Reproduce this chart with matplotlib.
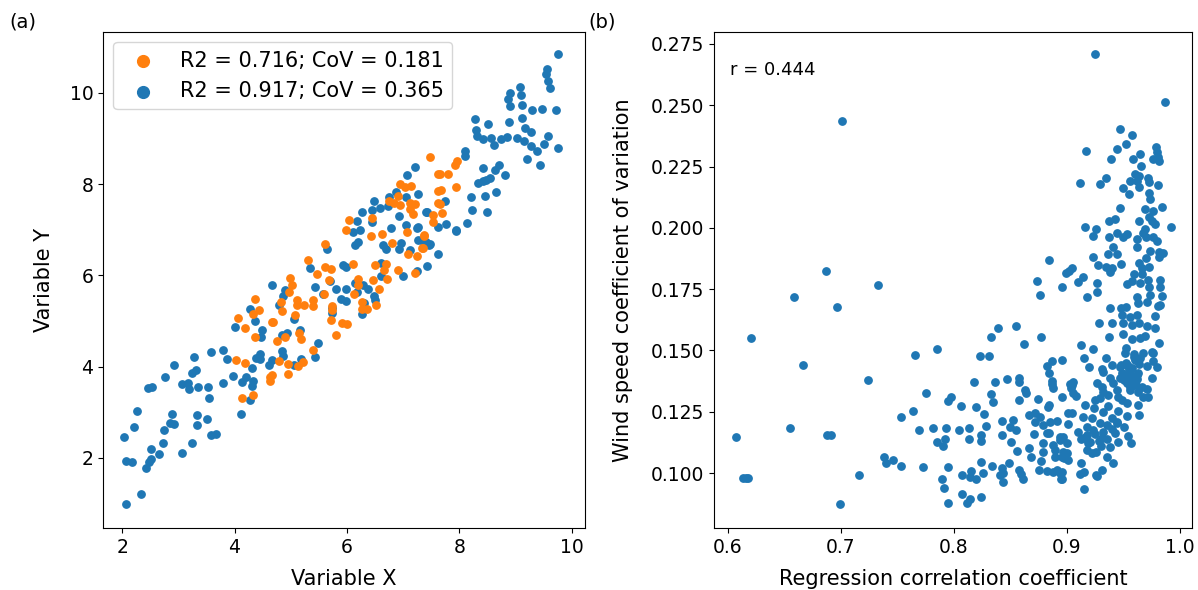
import numpy as np
import matplotlib
matplotlib.use('Agg')
import matplotlib.pyplot as plt

plt.rcParams['font.size'] = 13.5

# (a) two synthetic x/y sets: columns are x, y
set_low = np.array([
    [4.36, 5.48], [4.44, 5.25], [4.32, 5.15], [4.06, 5.07], [4.19, 4.85], [4.36, 4.65],
    [4.67, 4.97], [4.03, 4.14], [4.18, 4.08], [4.14, 3.32], [4.33, 3.37], [4.64, 3.78],
    [4.63, 3.69], [4.69, 4.98], [4.75, 4.56], [4.90, 4.64], [4.80, 4.13], [4.66, 3.81],
    [4.95, 4.05], [4.96, 3.84], [5.13, 4.02], [5.22, 4.11], [5.14, 4.73], [5.18, 4.61],
    [5.40, 4.37], [5.08, 5.14], [4.83, 5.41], [4.84, 5.23], [4.97, 5.63], [4.99, 5.94],
    [5.03, 5.79], [5.11, 5.45], [5.12, 5.36], [5.24, 5.34], [5.39, 5.33], [5.40, 5.46],
    [5.59, 5.60], [5.69, 5.89], [5.46, 6.03], [5.30, 6.34], [5.61, 6.18], [5.72, 6.15],
    [5.61, 6.69], [5.73, 5.32], [5.74, 5.25], [5.72, 5.02], [5.80, 4.70], [5.92, 4.95],
    [6.01, 4.94], [6.11, 6.25], [6.12, 5.59], [6.20, 5.93], [6.20, 5.79], [6.26, 5.42],
    [6.27, 5.27], [6.35, 5.27], [6.47, 5.90], [6.50, 6.22], [6.57, 5.70], [6.51, 5.36],
    [6.66, 6.11], [6.70, 6.25], [6.71, 5.93], [6.42, 6.86], [6.45, 7.25], [6.63, 6.91],
    [6.81, 6.72], [6.91, 6.11], [7.08, 6.47], [7.24, 6.43], [7.21, 6.05], [7.34, 6.59],
    [7.37, 6.87], [7.07, 6.95], [6.04, 7.21], [5.98, 7.00], [6.75, 7.64], [6.84, 7.59],
    [6.91, 7.73], [6.94, 7.54], [6.95, 8.00], [7.03, 7.93], [7.14, 7.97], [7.13, 7.59],
    [7.21, 7.57], [7.12, 7.46], [7.17, 7.35], [7.48, 8.59], [7.62, 8.23], [7.62, 7.86],
    [7.62, 7.59], [7.53, 7.32], [7.53, 7.18], [7.65, 8.23], [7.80, 8.23], [7.93, 8.42],
    [7.96, 8.51], [7.95, 7.94], [7.67, 7.88], [7.66, 7.57], [7.69, 7.37], [7.37, 6.88],
    [7.35, 6.59],
])

set_high = np.array([
    [2.07, 0.99], [2.33, 1.21], [2.04, 2.45], [2.07, 1.92], [2.18, 1.90], [2.22, 2.68],
    [2.27, 3.02], [2.43, 1.77], [2.47, 1.90], [2.51, 1.98], [2.52, 2.19], [2.66, 2.09],
    [2.73, 2.32], [2.75, 2.61], [2.86, 2.77], [2.93, 2.75], [2.89, 2.95], [3.07, 2.10],
    [3.24, 2.32], [3.33, 2.94], [3.34, 2.72], [3.51, 2.85], [3.59, 2.50], [3.67, 2.53],
    [2.46, 3.53], [2.53, 3.55], [2.76, 3.78], [2.93, 4.04], [3.07, 3.61], [3.17, 3.64],
    [3.19, 3.51], [3.35, 3.55], [3.25, 3.86], [3.31, 3.93], [3.27, 4.22], [3.53, 3.55],
    [3.55, 3.31], [3.59, 4.32], [3.79, 4.37], [3.87, 4.17], [3.79, 3.64], [3.97, 3.80],
    [4.12, 2.95], [4.14, 3.67], [4.20, 3.77], [4.27, 3.26], [4.31, 3.58], [4.32, 3.69],
    [4.31, 3.96], [4.38, 4.19], [4.45, 4.28], [4.46, 4.16], [4.61, 4.04], [4.01, 4.87],
    [4.27, 5.26], [4.36, 5.00], [4.49, 4.81], [4.48, 4.66], [4.67, 5.80], [4.89, 5.67],
    [4.87, 5.54], [4.80, 5.35], [5.05, 5.04], [4.84, 4.69], [4.93, 4.73], [4.84, 4.35],
    [4.86, 4.24], [4.66, 4.15], [5.16, 4.81], [5.18, 4.16], [5.06, 4.04], [5.44, 4.22],
    [5.48, 4.52], [5.35, 6.17], [5.43, 5.74], [5.58, 5.60], [5.70, 5.88], [5.80, 5.70],
    [5.65, 6.58], [5.89, 5.49], [5.98, 5.43], [5.98, 5.70], [5.93, 6.23], [5.98, 6.18],
    [5.73, 5.17], [5.74, 5.28], [6.15, 5.83], [6.18, 5.63], [6.29, 5.79], [6.37, 5.70],
    [6.49, 5.54], [6.50, 5.47], [6.27, 5.16], [6.31, 5.39], [6.10, 6.96], [6.15, 6.66],
    [6.20, 6.74], [6.18, 7.20], [6.24, 7.00], [6.27, 7.39], [6.44, 7.17], [6.44, 7.44],
    [6.48, 7.64], [6.59, 7.48], [6.73, 7.52], [6.75, 7.71], [6.87, 7.82], [6.92, 7.30],
    [6.79, 7.03], [6.65, 6.66], [6.69, 6.58], [6.60, 6.27], [6.60, 5.98], [6.96, 6.72],
    [6.92, 6.58], [7.00, 5.99], [7.05, 7.10], [7.05, 7.71], [7.07, 8.21], [7.22, 8.37],
    [7.27, 7.79], [7.24, 7.04], [7.27, 7.07], [7.26, 6.78], [7.12, 6.56], [7.37, 6.71],
    [7.46, 6.66], [7.42, 6.20], [7.25, 6.09], [7.40, 7.39], [7.62, 6.47], [7.62, 7.06],
    [9.76, 10.86], [9.56, 10.52], [9.54, 10.41], [9.57, 10.27], [9.61, 10.10], [9.08, 10.13],
    [8.90, 10.00], [8.86, 9.86], [8.91, 9.72], [9.09, 9.95], [9.11, 9.73], [9.29, 9.62],
    [9.48, 9.65], [9.72, 9.62], [9.11, 9.46], [8.89, 9.36], [8.51, 9.31], [8.28, 9.43],
    [8.29, 9.18], [8.32, 9.06], [8.42, 8.99], [8.57, 9.01], [8.62, 8.86], [8.74, 8.99],
    [8.84, 9.04], [9.02, 9.01], [9.17, 9.23], [9.28, 9.14], [9.16, 8.95], [9.27, 8.84],
    [9.38, 8.73], [9.51, 8.88], [9.58, 9.06], [9.76, 8.79], [9.21, 8.55], [9.43, 8.42],
    [8.10, 8.73], [8.10, 8.62], [8.42, 8.36], [8.70, 8.42], [8.64, 8.31], [8.81, 8.20],
    [8.54, 8.14], [8.48, 8.10], [8.42, 8.07], [8.33, 8.02], [8.45, 7.75], [8.66, 7.82],
    [8.20, 7.71], [8.22, 7.43], [8.50, 7.39], [8.13, 7.14], [7.95, 6.97], [7.94, 7.00],
    [7.77, 7.12], [7.75, 7.63], [7.42, 7.39], [7.48, 6.68], [7.40, 6.73],
])

label_low = 'R2 = 0.716; CoV = 0.181'
label_high = 'R2 = 0.917; CoV = 0.365'

# (b) regression r vs wind speed CoV per site: columns are r, CoV
sites = np.array([
    [0.7006, 0.2435], [0.620, 0.155], [0.658, 0.172], [0.687, 0.1825], [0.6965, 0.1676],
    [0.733, 0.1766], [0.666, 0.1442], [0.724, 0.1378], [0.607, 0.1148], [0.6157, 0.0981],
    [0.6181, 0.0981], [0.6136, 0.0981], [0.6546, 0.1185], [0.6879, 0.1155], [0.6909, 0.1155],
    [0.6988, 0.0874], [0.7159, 0.0993], [0.7655, 0.148], [0.7852, 0.1505], [0.7755, 0.1325],
    [0.7531, 0.1228], [0.7637, 0.1252], [0.7687, 0.1175], [0.7817, 0.1184], [0.7932, 0.1184],
    [0.7847, 0.1126], [0.790, 0.1109], [0.7918, 0.114], [0.738, 0.1064], [0.740, 0.1041],
    [0.746, 0.1052], [0.7531, 0.1031], [0.7726, 0.1024], [0.7896, 0.0976], [0.7909, 0.0939],
    [0.7947, 0.1023], [0.795, 0.088], [0.795, 0.1293], [0.7971, 0.1311],
    [0.8737, 0.1782], [0.8956, 0.1760], [0.8764, 0.1726], [0.8392, 0.1592], [0.8546, 0.1601],
    [0.8327, 0.1554], [0.8773, 0.1556], [0.8622, 0.1526], [0.8227, 0.1479], [0.8310, 0.1479],
    [0.8826, 0.1437], [0.8867, 0.1456], [0.8956, 0.1461], [0.8838, 0.1409], [0.8867, 0.1377],
    [0.8873, 0.1346], [0.8958, 0.1311], [0.9027, 0.1363], [0.8180, 0.1371], [0.8360, 0.1371],
    [0.8466, 0.1382], [0.8572, 0.1388], [0.8572, 0.1373], [0.8631, 0.1339], [0.8640, 0.1325],
    [0.8578, 0.1298], [0.8741, 0.1302], [0.8844, 0.1276], [0.8059, 0.1273], [0.8195, 0.1270],
    [0.8325, 0.1321], [0.8348, 0.1290], [0.8265, 0.1239], [0.8283, 0.1193], [0.8425, 0.1213],
    [0.8519, 0.1216], [0.8496, 0.1189], [0.8549, 0.1175], [0.8667, 0.1238], [0.8720, 0.1244],
    [0.8761, 0.1230], [0.8720, 0.1209], [0.8790, 0.1195], [0.8909, 0.1212], [0.8844, 0.1162],
    [0.8708, 0.1159], [0.8425, 0.1154], [0.8502, 0.1125], [0.8558, 0.1089], [0.8661, 0.1103],
    [0.8679, 0.1067], [0.8767, 0.1049], [0.8790, 0.1087], [0.8790, 0.1121], [0.8891, 0.1094],
    [0.8938, 0.1148], [0.8755, 0.1012], [0.8820, 0.1009], [0.8879, 0.1005], [0.8938, 0.1001],
    [0.8947, 0.0978], [0.8236, 0.1156], [0.8236, 0.1129], [0.8130, 0.1184], [0.8130, 0.1140],
    [0.8042, 0.1175], [0.8071, 0.0993], [0.8153, 0.1009], [0.8142, 0.0985], [0.8195, 0.0977],
    [0.8254, 0.0999], [0.8236, 0.1046], [0.8334, 0.1031], [0.8422, 0.1020], [0.8487, 0.1040],
    [0.8436, 0.0999], [0.8407, 0.0993], [0.8436, 0.0964], [0.8572, 0.1012], [0.8596, 0.0995],
    [0.8611, 0.0978], [0.8071, 0.0913], [0.8142, 0.0895], [0.8112, 0.0879], [0.8236, 0.0901],
    [0.8844, 0.1870], [0.9251, 0.2709],
    [0.9867, 0.2511], [0.9472, 0.2402], [0.9578, 0.2378], [0.9522, 0.2342], [0.9442, 0.2321],
    [0.9168, 0.2314], [0.9389, 0.2281], [0.9581, 0.2280], [0.9649, 0.2299], [0.9788, 0.2331],
    [0.9794, 0.2310], [0.9808, 0.2290], [0.9764, 0.2281], [0.9814, 0.2272], [0.9657, 0.2253],
    [0.9602, 0.2220], [0.9640, 0.2212], [0.9617, 0.2189], [0.9558, 0.2189], [0.9637, 0.2166],
    [0.9720, 0.2202], [0.9729, 0.2186], [0.9808, 0.2175], [0.9342, 0.2205], [0.9295, 0.2178],
    [0.9112, 0.2183], [0.9498, 0.2162], [0.9546, 0.2138], [0.9723, 0.2144], [0.9735, 0.2118],
    [0.9469, 0.2082], [0.9693, 0.2077], [0.9758, 0.2070], [0.9843, 0.2084], [0.9723, 0.2043],
    [0.9749, 0.2029], [0.9779, 0.2016], [0.9634, 0.2029], [0.9374, 0.2029], [0.9425, 0.2035],
    [0.9923, 0.2002], [0.9159, 0.2005], [0.9259, 0.1997], [0.9227, 0.1967], [0.9374, 0.1962],
    [0.9445, 0.1980], [0.9498, 0.1964], [0.9531, 0.1975], [0.9687, 0.1994], [0.9675, 0.1978],
    [0.9622, 0.1953], [0.9699, 0.1962], [0.9764, 0.1964], [0.9799, 0.1948], [0.9622, 0.1923],
    [0.9410, 0.1923], [0.9360, 0.1895], [0.9445, 0.1892], [0.9735, 0.1907], [0.9814, 0.1902],
    [0.9853, 0.1899], [0.9699, 0.1876], [0.9814, 0.1883], [0.9230, 0.1882], [0.9272, 0.1849],
    [0.9345, 0.1842], [0.9398, 0.1835], [0.9475, 0.1853], [0.9381, 0.1821], [0.9634, 0.1856],
    [0.9661, 0.1835], [0.9729, 0.1842], [0.9593, 0.1812], [0.9661, 0.1812], [0.9044, 0.1835],
    [0.9020, 0.1825], [0.8991, 0.1817], [0.9145, 0.1798], [0.9100, 0.1781], [0.9268, 0.1776],
    [0.9268, 0.1738], [0.9174, 0.1719], [0.9528, 0.1770], [0.9572, 0.1785], [0.9646, 0.1774],
    [0.9720, 0.1787], [0.9729, 0.1760], [0.9823, 0.1787], [0.9823, 0.1760], [0.9622, 0.1719],
    [0.9735, 0.1726], [0.9838, 0.1722],
    [0.9381, 0.1674], [0.9478, 0.1672], [0.9522, 0.1679], [0.9631, 0.1692], [0.9705, 0.1699],
    [0.9823, 0.1685], [0.9484, 0.1645], [0.9558, 0.1638], [0.9617, 0.1645], [0.9779, 0.1641],
    [0.9286, 0.1611], [0.9395, 0.1611], [0.9498, 0.1611], [0.9572, 0.1605], [0.9640, 0.1613],
    [0.9705, 0.1600], [0.9779, 0.1590], [0.9498, 0.1566], [0.9372, 0.1556], [0.9578, 0.1545],
    [0.9646, 0.1550], [0.9690, 0.1559], [0.9812, 0.1532], [0.9121, 0.1522], [0.9233, 0.1505],
    [0.9522, 0.1509], [0.9513, 0.1491], [0.9593, 0.1486], [0.9675, 0.1491], [0.9749, 0.1492],
    [0.9150, 0.1468], [0.9345, 0.1470], [0.9646, 0.1468], [0.9764, 0.1458], [0.9197, 0.1431],
    [0.9307, 0.1426], [0.9395, 0.1441], [0.9469, 0.1434], [0.9528, 0.1441], [0.9572, 0.1427],
    [0.9711, 0.1437], [0.9794, 0.1434], [0.9321, 0.1413], [0.9484, 0.1409], [0.9558, 0.1407],
    [0.9631, 0.1407], [0.9381, 0.1386], [0.9469, 0.1386], [0.9558, 0.1386], [0.9617, 0.1382],
    [0.9749, 0.1386], [0.9050, 0.1372], [0.9410, 0.1366], [0.9528, 0.1366], [0.9593, 0.1359],
    [0.9263, 0.1366], [0.9033, 0.1346], [0.9307, 0.1352], [0.9661, 0.1352], [0.9711, 0.1344],
    [0.9321, 0.1332], [0.9440, 0.1339], [0.9558, 0.1339], [0.9631, 0.1332], [0.9080, 0.1314],
    [0.9366, 0.1318], [0.9248, 0.1298], [0.9292, 0.1305], [0.9454, 0.1311], [0.9675, 0.1311],
    [0.9720, 0.1309], [0.9484, 0.1298], [0.9528, 0.1284], [0.9159, 0.1277], [0.9366, 0.1273],
    [0.9242, 0.1264], [0.9631, 0.1277], [0.9454, 0.1254], [0.9321, 0.1250], [0.9012, 0.1246],
    [0.9041, 0.1246], [0.9640, 0.1237], [0.9528, 0.1233], [0.9139, 0.1227], [0.9218, 0.1223],
    [0.9395, 0.1223], [0.9012, 0.1200], [0.9292, 0.1205], [0.9440, 0.1203], [0.9351, 0.1196],
    [0.9174, 0.1189], [0.9100, 0.1169], [0.9233, 0.1175], [0.9321, 0.1169], [0.9425, 0.1162],
    [0.9543, 0.1151], [0.9145, 0.1142], [0.8962, 0.1148], [0.9307, 0.1142], [0.9454, 0.1128],
    [0.9564, 0.1121], [0.8996, 0.1121], [0.9188, 0.1121], [0.9381, 0.1107], [0.9174, 0.1094],
    [0.9257, 0.1087], [0.8996, 0.1083], [0.8953, 0.1067], [0.9012, 0.1053], [0.9351, 0.1067],
    [0.9404, 0.1040], [0.9121, 0.1040], [0.8953, 0.1005], [0.8953, 0.0978], [0.9111, 0.0996],
    [0.9150, 0.1005], [0.9257, 0.0992], [0.9307, 0.1012], [0.9153, 0.0935],
    [0.9808, 0.1681], [0.9758, 0.1488], [0.9263, 0.0988], [0.8909, 0.1012], [0.8894, 0.1067],
    [0.8969, 0.1062], [0.8850, 0.1209], [0.8820, 0.1162], [0.8879, 0.1114], [0.8938, 0.1135],
    [0.8967, 0.1087], [0.8835, 0.1270], [0.8863, 0.1363], [0.9044, 0.1359], [0.9056, 0.1325],
    [0.912, 0.114], [0.920, 0.1125], [0.928, 0.113], [0.925, 0.116], [0.918, 0.1155],
    [0.930, 0.111], [0.922, 0.108], [0.935, 0.114], [0.940, 0.118], [0.944, 0.121],
    [0.950, 0.119], [0.952, 0.145], [0.955, 0.142], [0.958, 0.139], [0.960, 0.146],
    [0.957, 0.137], [0.962, 0.140], [0.950, 0.138], [0.954, 0.1435], [0.959, 0.1475],
    [0.964, 0.1445], [0.953, 0.1395], [0.948, 0.144], [0.956, 0.135], [0.961, 0.136],
])
r_text = 'r = 0.444'

fig = plt.figure(figsize=(11.98, 5.9), dpi=100)
ax1 = fig.add_axes([0.086, 0.105, 0.402, 0.841])
ax2 = fig.add_axes([0.596, 0.105, 0.399, 0.841])

# panel (a)
h_high = ax1.scatter(set_high[:, 0], set_high[:, 1], s=28, color='C0', label=label_high)
h_low = ax1.scatter(set_low[:, 0], set_low[:, 1], s=28, color='C1', label=label_low)
ax1.set_xlim(1.66, 10.23)
ax1.set_ylim(0.46, 11.34)
ax1.set_xticks([2, 4, 6, 8, 10])
ax1.set_yticks([2, 4, 6, 8, 10])
ax1.set_xlabel('Variable X', fontsize=15, labelpad=9)
ax1.set_ylabel('Variable Y', fontsize=15, labelpad=11)
ax1.legend([h_low, h_high], [label_low, label_high], loc='upper left',
           markerscale=1.6, fontsize=15)

# panel (b)
ax2.scatter(sites[:, 0], sites[:, 1], s=28, color='C0')
ax2.set_xlim(0.5876, 1.0106)
ax2.set_ylim(0.0776, 0.2799)
ax2.set_xticks([0.6, 0.7, 0.8, 0.9, 1.0])
ax2.set_yticks([0.100, 0.125, 0.150, 0.175, 0.200, 0.225, 0.250, 0.275])
ax2.set_xlabel('Regression correlation coefficient', fontsize=15, labelpad=9)
ax2.set_ylabel('Wind speed coefficient of variation', fontsize=15, labelpad=13)
ax2.text(0.033, 0.923, r_text, transform=ax2.transAxes, ha='left', va='center',
         fontsize=13)

fig.text(0.008, 0.962, '(a)', ha='left', va='center', fontsize=14)
fig.text(0.491, 0.962, '(b)', ha='left', va='center', fontsize=14)

fig.savefig('out.png', dpi=100)
